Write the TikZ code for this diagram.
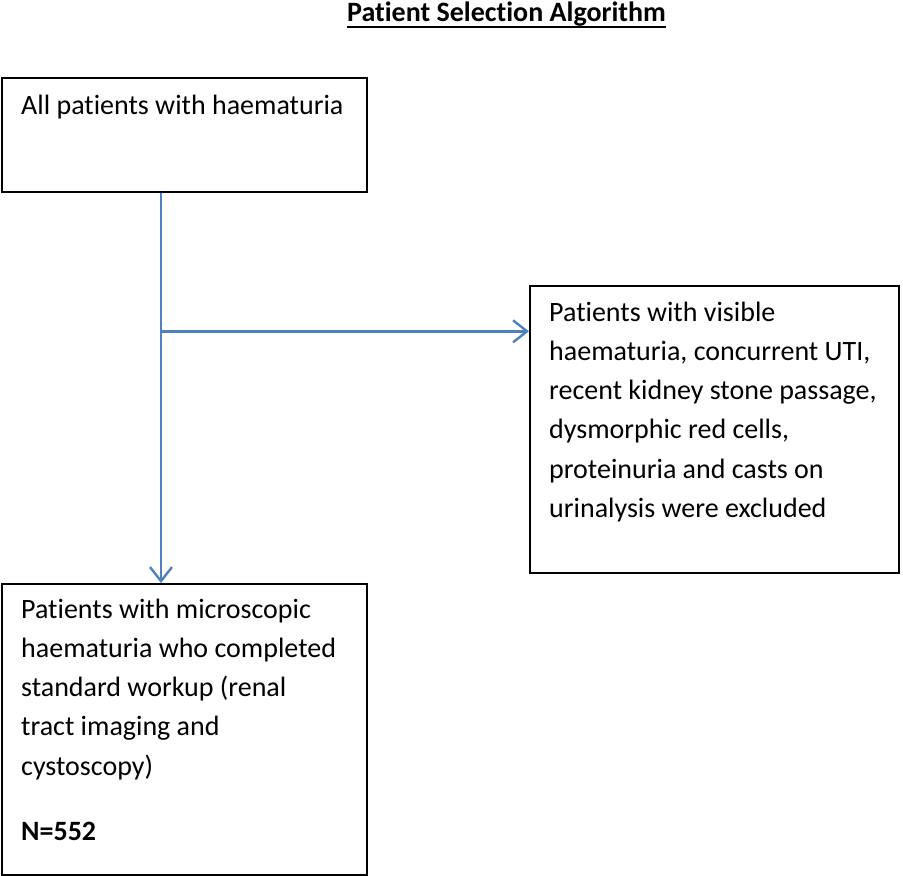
\documentclass[tikz,border=0pt]{standalone}
\usepackage{fontspec}
\setmainfont{Carlito}[Ligatures=NoCommon]
\usetikzlibrary{arrows.meta,calc}
\definecolor{arrblue}{HTML}{4F81BD}
\tikzset{
  box/.style={draw=black, line width=1.8pt, inner sep=0pt, anchor=north west},
  txt/.style={anchor=base west, inner sep=0pt},
  arr/.style={draw=arrblue, line width=2.4pt, -{Straight Barb[length=14pt,width=22pt,line width=2.4pt]}},
}
\newcommand{\bodytext}[2]{\parbox[t]{#1}{\raggedright\fontsize{28pt}{39.3pt}\selectfont #2}}
\begin{document}
\begin{tikzpicture}[x=1pt,y=-1pt]
\useasboundingbox (0,0) rectangle (903,876);
% title
\node[txt, anchor=base, font=\fontsize{28pt}{34pt}\selectfont\bfseries] (title) at (506.5,21) {Patient Selection Algorithm};
\draw[line width=1.8pt] ($(title.base west)+(0,6)$) -- ($(title.base east)+(0,6)$);
% boxes
\node[box, minimum width=365pt, minimum height=114pt] (b1) at (1,77) {};
\node[box, minimum width=369pt, minimum height=287pt] (b2) at (529,285) {};
\node[box, minimum width=365pt, minimum height=291pt] (b3) at (1,583) {};
% texts
\node[txt] (t1) at (21,114) {\bodytext{340pt}{All patients with haematuria}};
\node[txt] (t2) at (549,321) {\bodytext{345pt}{Patients with visible\\haematuria, concurrent UTI,\\recent kidney stone passage,\\dysmorphic red cells,\\proteinuria and casts on\\urinalysis were excluded}};
\node[txt] (t3) at (21,618) {\bodytext{340pt}{Patients with microscopic\\haematuria who completed\\standard workup (renal\\tract imaging and\\cystoscopy)\\[25.5pt]\textbf{N=552}}};
% connectors
\coordinate (top) at ($(b1.south west)+(160,0)$);
\coordinate (bot) at ($(b3.north west)+(160,0)$);
\coordinate (j) at ($(top)!0.355!(bot)$);
\draw[arr] (top) -- (bot);
\draw[arr] (j) -- (j -| b2.west);
\end{tikzpicture}
\end{document}
